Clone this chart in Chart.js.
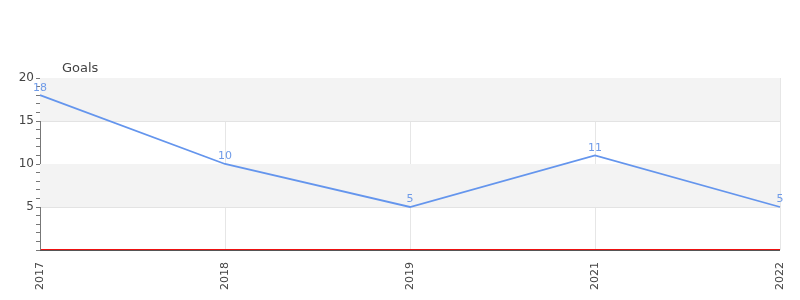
<!DOCTYPE html>
<html>
<head>
<meta charset="utf-8">
<script src="https://cdn.jsdelivr.net/npm/chart.js@4"></script>
<style>
  html, body { margin: 0; padding: 0; background: #fff; }
  #wrap { width: 800px; height: 300px; }
</style>
</head>
<body>
<div id="wrap"><canvas id="goalsChart"></canvas></div>
<script>
const years = ['2017', '2018', '2019', '2021', '2022'];
const goals = [18, 10, 5, 11, 5];
const yMin = 0;
const yMax = 20;

// grey bands between every other major gridline, red zero line, series labels
const extras = {
    id: 'extras',
    beforeDatasetsDraw(chart) {
        const { ctx, chartArea: a, scales: { y } } = chart;
        ctx.save();
        ctx.fillStyle = '#f3f3f3';
        for (let v = 5; v < yMax; v += 10) {
            const top = y.getPixelForValue(v + 5);
            const bot = y.getPixelForValue(v);
            ctx.fillRect(a.left, top, a.right - a.left, bot - top);
        }
        ctx.restore();
    },
    afterDraw(chart) {
        const { ctx, chartArea: a, scales: { y } } = chart;
        ctx.save();
        const y0 = Math.round(y.getPixelForValue(0));
        ctx.fillStyle = '#ee1111';
        ctx.fillRect(a.left + 1, y0 - 1, a.right - a.left - 1, 1);
        ctx.fillStyle = '#555';
        ctx.fillRect(a.left, y0, a.right - a.left, 1);

        ctx.font = '11px "DejaVu Sans"';
        ctx.fillStyle = '#6f9be8';
        ctx.textAlign = 'center';
        ctx.textBaseline = 'bottom';
        chart.getDatasetMeta(0).data.forEach((pt, i) => {
            ctx.fillText(String(goals[i]), pt.x, pt.y - 2);
        });

        ctx.font = '13px "DejaVu Sans"';
        ctx.fillStyle = '#444';
        ctx.textAlign = 'left';
        ctx.textBaseline = 'alphabetic';
        ctx.fillText('Goals', a.left + 22, a.top - 6);
        ctx.restore();
    }
};

const ctx = document.getElementById('goalsChart').getContext('2d');
const goalsChart = new Chart(ctx, {
    type: 'line',
    data: {
        labels: years,
        datasets: [{
            label: 'Goals',
            data: goals,
            borderColor: '#6495ed',
            borderWidth: 1.8,
            pointRadius: 0,
            tension: 0,
            fill: false
        }]
    },
    options: {
        responsive: true,
        maintainAspectRatio: false,
        animation: false,
        layout: { padding: { top: 78, right: 20, left: 0, bottom: 0 } },
        plugins: {
            legend: { display: false },
            tooltip: { enabled: false }
        },
        scales: {
            x: {
                offset: false,
                grid: { color: '#e6e6e6', drawTicks: false },
                border: { display: false },
                ticks: {
                    minRotation: 90,
                    maxRotation: 90,
                    padding: 12,
                    color: '#444',
                    font: { family: 'DejaVu Sans', size: 11 }
                },
                afterFit(scale) {
                    scale.height = 50;
                    scale.paddingLeft = 0;
                    scale.paddingRight = 0;
                }
            },
            y: {
                min: yMin,
                max: yMax,
                grid: {
                    color: c => (c.tick && c.tick.value % 5 === 0 ? '#e3e3e3' : 'rgba(0,0,0,0)'),
                    tickColor: '#777',
                    tickLength: 4
                },
                border: { color: '#777', width: 1 },
                ticks: {
                    stepSize: 1,
                    autoSkip: false,
                    padding: 2,
                    color: '#444',
                    font: { family: 'DejaVu Sans', size: 12 },
                    callback: v => (v % 5 === 0 && v !== 0 ? String(v) : '')
                },
                afterFit(scale) { scale.width = 40; }
            }
        }
    },
    plugins: [extras]
});
</script>
</body>
</html>
